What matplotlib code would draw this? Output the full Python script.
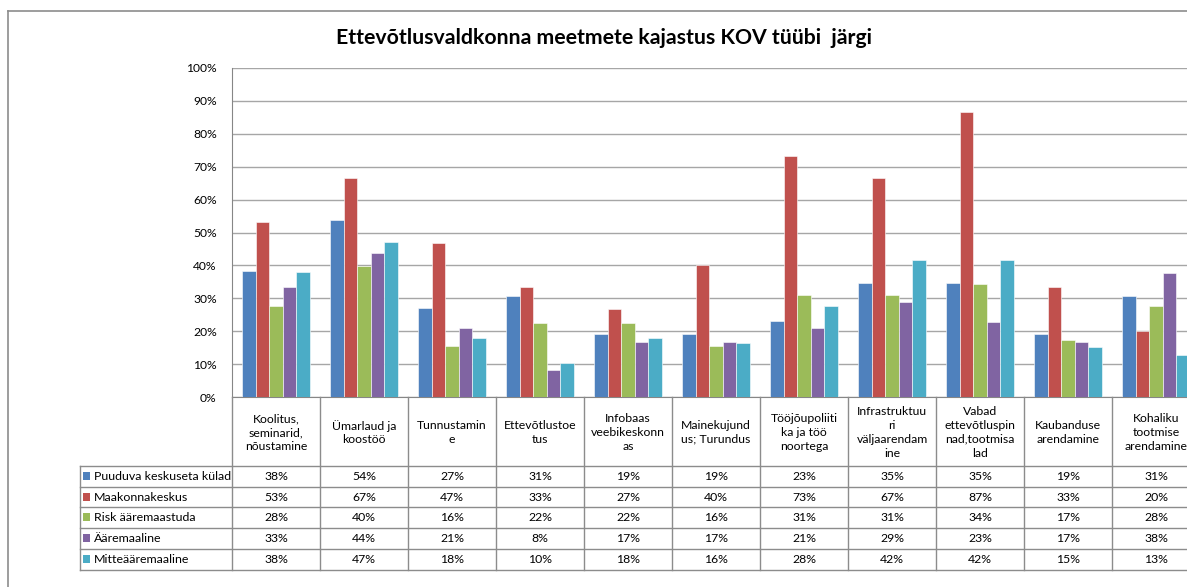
import matplotlib
matplotlib.use("Agg")
import matplotlib.pyplot as plt
from matplotlib.lines import Line2D
from matplotlib.patches import Rectangle
import numpy as np

plt.rcParams['font.family'] = ['Lato', 'DejaVu Sans']

title = "Ettevõtlusvaldkonna meetmete kajastus KOV tüübi  järgi"

categories = [
    "Koolitus,\nseminarid,\nnõustamine",
    "Ümarlaud ja\nkoostöö",
    "Tunnustamin\ne",
    "Ettevõtlustoe\ntus",
    "Infobaas\nveebikeskonn\nas",
    "Mainekujund\nus; Turundus",
    "Tööjõupoliiti\nka ja töö\nnoortega",
    "Infrastruktuu\nri\nväljaarendam\nine",
    "Vabad\nettevõtluspin\nnad,tootmisa\nlad",
    "Kaubanduse\narendamine",
    "Kohaliku\ntootmise\narendamine",
]

series_names = [
    "Puuduva keskuseta külad",
    "Maakonnakeskus",
    "Risk ääremaastuda",
    "Ääremaaline",
    "Mitteääremaaline",
]

puuduva = [38.4, 53.8, 26.9, 30.8, 19.2, 19.2, 23.1, 34.6, 34.6, 19.2, 30.8]
maakonnakeskus = [53.3, 66.7, 46.7, 33.3, 26.7, 40.0, 73.3, 66.7, 86.7, 33.3, 20.0]
risk = [27.6, 39.7, 15.5, 22.4, 22.4, 15.5, 31.0, 31.0, 34.4, 17.2, 27.6]
aaremaaline = [33.3, 43.9, 20.9, 8.3, 16.7, 16.7, 20.9, 29.0, 22.9, 16.7, 37.6]
mitte = [38.1, 47.0, 17.8, 10.2, 17.8, 16.3, 27.8, 41.7, 41.7, 15.1, 12.7]

values = [puuduva, maakonnakeskus, risk, aaremaaline, mitte]
colors = ["#4F81BD", "#C0504D", "#9BBB59", "#8064A2", "#4BACC6"]

W, H = 1187, 587
fig = plt.figure(figsize=(W / 100, H / 100), dpi=100)
fig.patch.set_facecolor("white")


def px_rect(x0, y0, x1, y1):
    return [x0 / W, (H - y1) / H, (x1 - x0) / W, (y1 - y0) / H]


# outer chart border (right and bottom lie outside the picture)
border = "#8C8C8C"
fig.add_artist(Line2D([8 / W, 8 / W], [0, (H - 11) / H], color=border, lw=1.2))
fig.add_artist(Line2D([8 / W, 1], [(H - 11) / H, (H - 11) / H], color=border, lw=1.2))

fig.text(604 / W, (H - 38) / H, title, ha="center", va="center",
         fontsize=15.3, fontweight="bold", color="black")

# bar chart
ax = fig.add_axes(px_rect(232, 68, 1200, 397))
n_cat = len(categories)
n_ser = len(values)
bw = 1 / (n_ser + 1.55)
x = np.arange(n_cat) + 0.5
for k, (vals, col) in enumerate(zip(values, colors)):
    offs = (k - (n_ser - 1) / 2) * bw
    ax.bar(x + offs, np.array(vals) / 100, width=bw, color=col,
           edgecolor="white", linewidth=0.4, zorder=3)

ax.set_xlim(0, n_cat)
ax.set_ylim(0, 1)
ax.set_yticks(np.arange(0, 1.01, 0.1))
ax.set_yticklabels([f"{int(round(t * 100))}%" for t in np.arange(0, 1.01, 0.1)])
ax.tick_params(axis="y", length=0, pad=11, labelsize=8.7, labelcolor="black")
ax.set_xticks([])
ax.grid(axis="y", color="#A6A6A6", lw=1.0, zorder=0)
for s in ["top", "right"]:
    ax.spines[s].set_visible(False)
ax.spines["left"].set_color("#868686")
ax.spines["bottom"].set_color("#868686")

# data table below the chart
header_h = 69
row_h = 20.7
leg_w = 152 / 88
tab = fig.add_axes(px_rect(80, 397, 1200, 397 + header_h + n_ser * row_h))
tab.set_xlim(-leg_w, n_cat)
tab.set_ylim(header_h + n_ser * row_h, 0)
tab.axis("off")
line_c = "#8C8C8C"
bottom = header_h + n_ser * row_h

# vertical cell borders
for i in range(n_cat + 1):
    tab.plot([i, i], [0, bottom], color=line_c, lw=1, clip_on=False)
tab.plot([-leg_w, -leg_w], [header_h, bottom], color=line_c, lw=1, clip_on=False)
# horizontal row borders
for r in range(n_ser + 1):
    yy = header_h + r * row_h
    tab.plot([-leg_w, n_cat], [yy, yy], color=line_c, lw=1, clip_on=False)

for i, lab in enumerate(categories):
    tab.text(i + 0.5, header_h / 2 + 1, lab, ha="center", va="center",
             fontsize=8.8, linespacing=1.3, clip_on=False)

for r, (name, vals, col) in enumerate(zip(series_names, values, colors)):
    yc = header_h + (r + 0.5) * row_h
    tab.add_patch(Rectangle((-leg_w + 3 / 88, yc - 4.5), 7 / 88, 8,
                            facecolor=col, edgecolor="none", clip_on=False))
    tab.text(-leg_w + 14 / 88, yc, name, ha="left", va="center", fontsize=8.9)
    for i, v in enumerate(vals):
        tab.text(i + 0.5, yc, f"{v:.0f}%", ha="center", va="center", fontsize=8.8)

fig.savefig("out.png", dpi=100, facecolor="white")
